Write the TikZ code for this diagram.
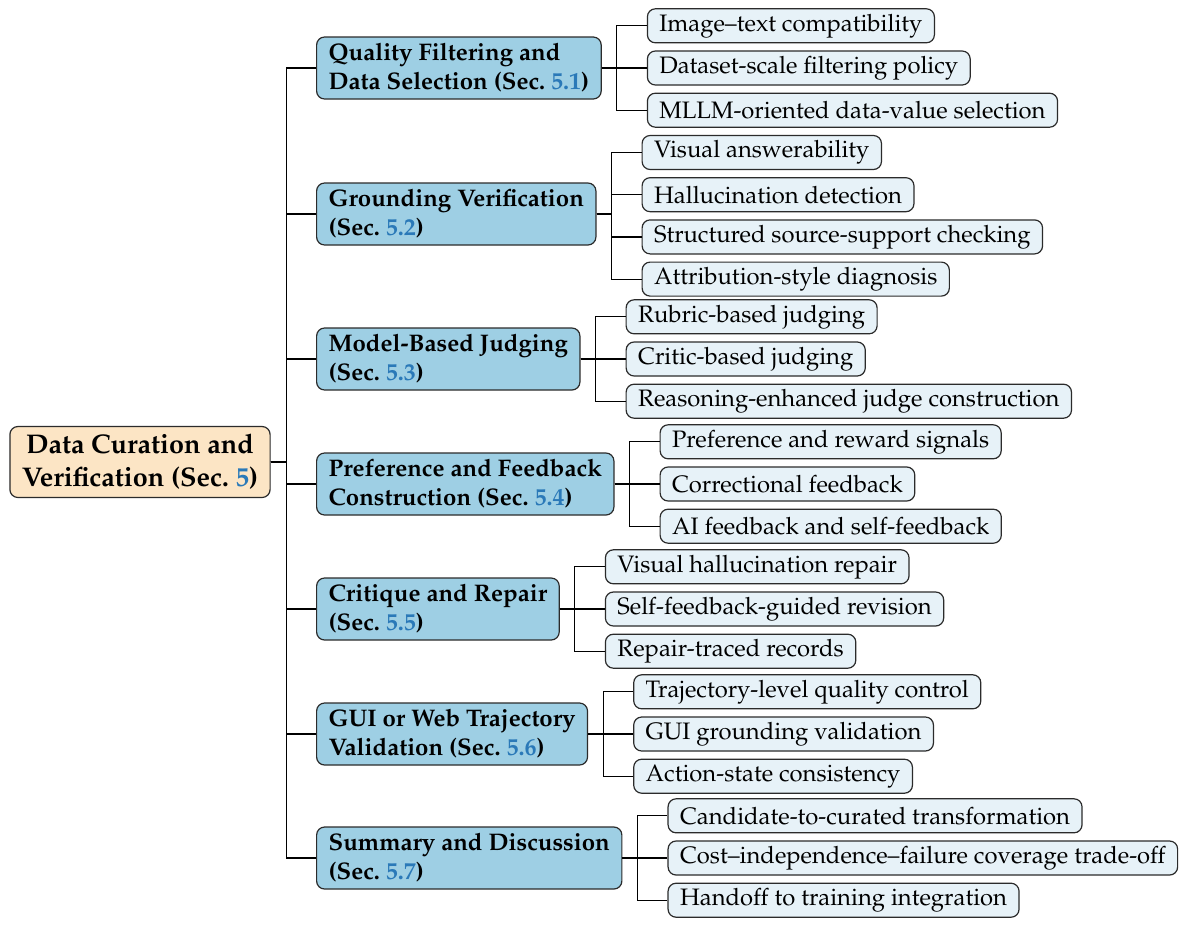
\documentclass[tikz,border=0pt]{standalone}
\usepackage[T1]{fontenc}
\usepackage{mathpazo}
\usepackage{xcolor}
\usepackage{tikz}
\usetikzlibrary{positioning}
\definecolor{ink}{HTML}{2B2B2B}
\definecolor{peach}{HTML}{FCE5C5}
\definecolor{sky}{HTML}{9ECFE4}
\definecolor{ice}{HTML}{E7F2F8}
\definecolor{linkblue}{HTML}{2A79B8}
\newcommand{\secno}[1]{\textcolor{linkblue}{#1}}
\tikzset{
  box/.style={rectangle, rounded corners=4pt, draw=ink, line width=0.6pt,
              inner xsep=6pt, inner ysep=2pt},
  rootbox/.style={box, fill=peach, align=center, minimum width=130pt, minimum height=35.5pt,
                  font=\fontsize{13.5}{16.5}\selectfont\bfseries},
  secbox/.style={box, fill=sky, anchor=west, align=left, minimum height=31pt,
                 font=\fontsize{12}{14.5}\selectfont\bfseries},
  leafbox/.style={box, fill=ice, minimum height=17pt, font=\fontsize{11.9}{14}\selectfont},
  link/.style={draw=black, line width=0.6pt}
}

\begin{document}
\begin{tikzpicture}[node distance=3.5pt]
 \useasboundingbox (0,0) rectangle (593pt,-463pt);
 \node[rootbox] (root) at (70pt,-231pt) {Data Curation and\\Verification (Sec.~\secno{5})};
 % sections
 \node[secbox] (s1) at (158pt,-34pt) {Quality Filtering and\\Data Selection (Sec.~\secno{5.1})};
 \node[secbox] (s2) at (158pt,-107pt) {Grounding Verification\\(Sec.~\secno{5.2})};
 \node[secbox] (s3) at (158pt,-179.5pt) {Model-Based Judging\\(Sec.~\secno{5.3})};
 \node[secbox] (s4) at (158pt,-242pt) {Preference and Feedback\\Construction (Sec.~\secno{5.4})};
 \node[secbox] (s5) at (158pt,-304.5pt) {Critique and Repair\\(Sec.~\secno{5.5})};
 \node[secbox] (s6) at (158pt,-367pt) {GUI or Web Trajectory\\Validation (Sec.~\secno{5.6})};
 \node[secbox] (s7) at (158pt,-429pt) {Summary and Discussion\\(Sec.~\secno{5.7})};
 \foreach \s in {s1,s2,s3,s4,s5,s6,s7}
   \draw[link] (root.east) -- ++(8pt,0) |- (\s.west);
 % 5.1
 \node[leafbox, right=22.5pt of s1] (s1b) {Dataset-scale filtering policy};
 \node[leafbox, above=of s1b.north west, anchor=south west] (s1a) {Image--text compatibility};
 \node[leafbox, below=of s1b.south west, anchor=north west] (s1c) {MLLM-oriented data-value selection};
 % 5.2
 \node[leafbox, right=22.5pt of s2, yshift=30.75pt] (s2a) {Visual answerability};
 \node[leafbox, below=of s2a.south west, anchor=north west] (s2b) {Hallucination detection};
 \node[leafbox, below=of s2b.south west, anchor=north west] (s2c) {Structured source-support checking};
 \node[leafbox, below=of s2c.south west, anchor=north west] (s2d) {Attribution-style diagnosis};
 % 5.3
 \node[leafbox, right=22.5pt of s3] (s3b) {Critic-based judging};
 \node[leafbox, above=of s3b.north west, anchor=south west] (s3a) {Rubric-based judging};
 \node[leafbox, below=of s3b.south west, anchor=north west] (s3c) {Reasoning-enhanced judge construction};
 % 5.4
 \node[leafbox, right=22.5pt of s4] (s4b) {Correctional feedback};
 \node[leafbox, above=of s4b.north west, anchor=south west] (s4a) {Preference and reward signals};
 \node[leafbox, below=of s4b.south west, anchor=north west] (s4c) {AI feedback and self-feedback};
 % 5.5
 \node[leafbox, right=22.5pt of s5] (s5b) {Self-feedback-guided revision};
 \node[leafbox, above=of s5b.north west, anchor=south west] (s5a) {Visual hallucination repair};
 \node[leafbox, below=of s5b.south west, anchor=north west] (s5c) {Repair-traced records};
 % 5.6
 \node[leafbox, right=22.5pt of s6] (s6b) {GUI grounding validation};
 \node[leafbox, above=of s6b.north west, anchor=south west] (s6a) {Trajectory-level quality control};
 \node[leafbox, below=of s6b.south west, anchor=north west] (s6c) {Action-state consistency};
 % 5.7
 \node[leafbox, right=22.5pt of s7] (s7b) {Cost--independence--failure coverage trade-off};
 \node[leafbox, above=of s7b.north west, anchor=south west] (s7a) {Candidate-to-curated transformation};
 \node[leafbox, below=of s7b.south west, anchor=north west] (s7c) {Handoff to training integration};
 % branches
 \foreach \c in {s1a,s1b,s1c} \draw[link] (s1.east) -- ++(7.5pt,0) |- (\c.west);
 \foreach \c in {s2a,s2b,s2c,s2d} \draw[link] (s2.east) -- ++(7.5pt,0) |- (\c.west);
 \foreach \c in {s3a,s3b,s3c} \draw[link] (s3.east) -- ++(7.5pt,0) |- (\c.west);
 \foreach \c in {s4a,s4b,s4c} \draw[link] (s4.east) -- ++(7.5pt,0) |- (\c.west);
 \foreach \c in {s5a,s5b,s5c} \draw[link] (s5.east) -- ++(7.5pt,0) |- (\c.west);
 \foreach \c in {s6a,s6b,s6c} \draw[link] (s6.east) -- ++(7.5pt,0) |- (\c.west);
 \foreach \c in {s7a,s7b,s7c} \draw[link] (s7.east) -- ++(7.5pt,0) |- (\c.west);
\end{tikzpicture}
\end{document}
